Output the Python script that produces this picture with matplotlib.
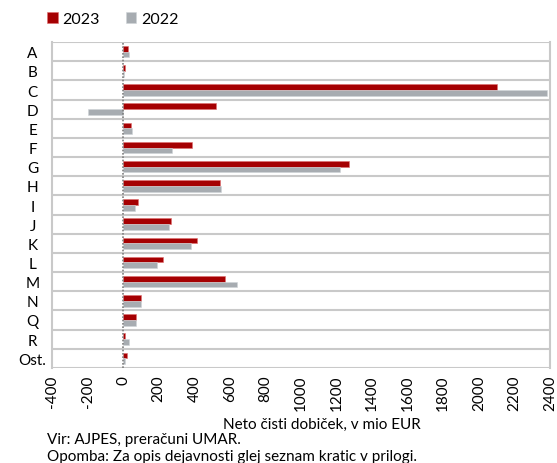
import matplotlib.pyplot as plt
import numpy as np

plt.rcParams['font.family'] = ['Lato', 'DejaVu Sans']

categories = ["A", "B", "C", "D", "E", "F", "G", "H", "I", "J", "K", "L",
              "M", "N", "Q", "R", "Ost."]
profit_2023 = [25, 12, 2100, 520, 45, 386, 1270, 545, 86, 270, 414, 225,
               571, 103, 73, 13, 19]
profit_2022 = [35, 3, 2385, -195, 50, 274, 1220, 549, 69, 257, 380, 189,
               641, 99, 75, 32, 10]
xticks = list(range(-400, 2401, 200))

red = "#A50002"
grey = "#A7ACB1"
line_grey = "#C9C9C9"

fig = plt.figure(figsize=(5.57, 4.64), dpi=100)
ax = fig.add_axes([0.0934, 0.205, 0.894, 0.702])

y = np.arange(len(categories))
h = 0.3
ax.barh(y - h / 2, profit_2023, height=h, color=red, label="2023",
        edgecolor="#E07070", linewidth=0.4)
ax.barh(y + h / 2, profit_2022, height=h, color=grey, label="2022",
        edgecolor="#D0D4D8", linewidth=0.4)

ax.set_ylim(len(categories) - 0.5, -0.5)
ax.set_xlim(-400, 2400)

# separators between categories
for yy in np.arange(-0.5, len(categories), 1.0):
    ax.axhline(yy, color=line_grey, lw=1.5, zorder=0)
ax.axvline(0, color="#7F7F7F", lw=1.2, ls=(0, (1, 1)), zorder=3)

for s in ["top", "bottom"]:
    ax.spines[s].set_visible(False)
for s in ["left", "right"]:
    ax.spines[s].set_color(line_grey)
    ax.spines[s].set_linewidth(1.5)

ax.set_yticks(y)
ax.set_yticklabels(categories, fontsize=11)
ax.set_xticks(xticks)
ax.set_xticklabels([str(t) for t in xticks], rotation=90, fontsize=11)
ax.tick_params(length=0, pad=5)
ax.tick_params(axis="y", pad=14)
for lab in ax.get_yticklabels():
    lab.set_horizontalalignment("center")

fig.text(0.578, 0.084, "Neto čisti dobiček, v mio EUR", fontsize=11,
         ha="center", va="center")

ax.legend(loc="center left", bbox_to_anchor=(-0.022, 1.07), ncol=2,
          frameon=False, fontsize=11.5, handlelength=0.65, handleheight=0.65,
          handletextpad=0.3, columnspacing=1.6, borderaxespad=0)

fig.text(0.084, 0.052, "Vir: AJPES, preračuni UMAR.", fontsize=11,
         va="center")
fig.text(0.084, 0.015, "Opomba: Za opis dejavnosti glej seznam kratic v prilogi.",
         fontsize=11, va="center")

fig.savefig("out.png", dpi=100)
